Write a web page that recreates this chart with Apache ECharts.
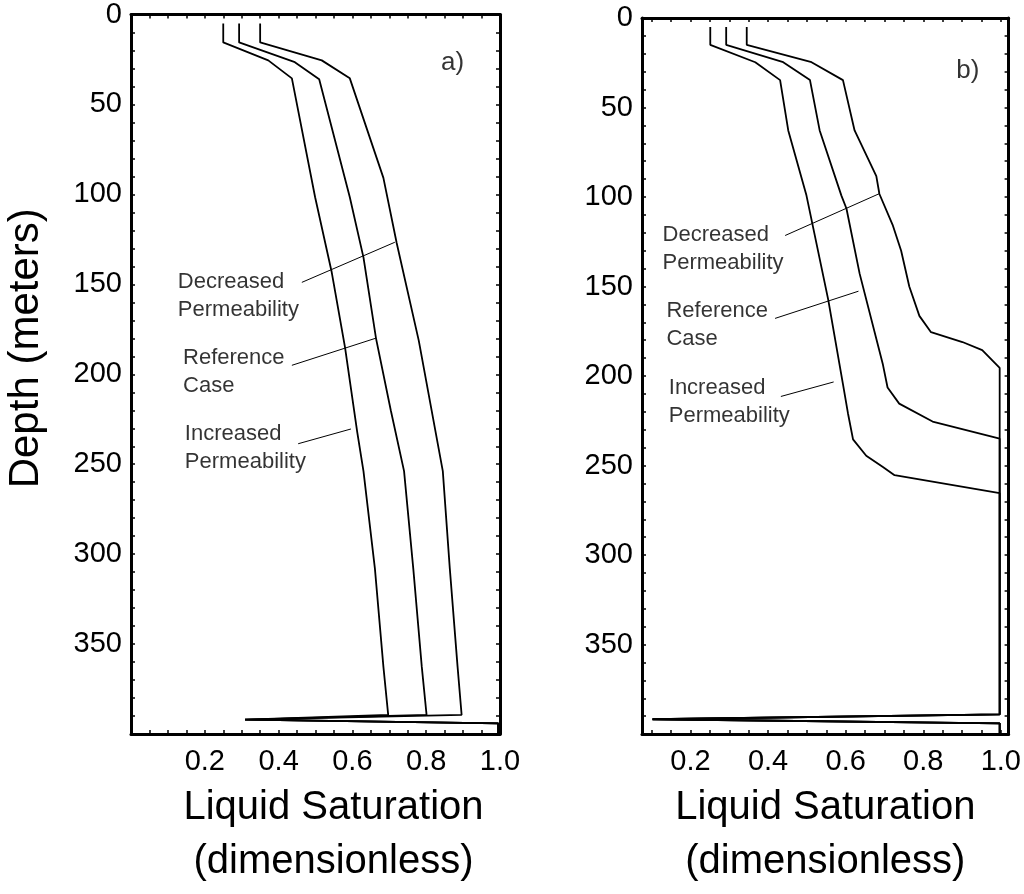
<!DOCTYPE html>
<html><head><meta charset="utf-8">
<script src="https://cdn.jsdelivr.net/npm/echarts@6/dist/echarts.min.js"></script>
<style>html,body{margin:0;padding:0;background:#fff}#c{width:1024px;height:894px}</style>
</head><body><div id="c"></div>
<script>
// ---- tick labels ----
const depthLabels = [0, 50, 100, 150, 200, 250, 300, 350];
const satLabels = [0.2, 0.4, 0.6, 0.8, 1.0];

// ---- panel a) : [saturation, depth] ----
const incA = [[0.250,5],[0.250,15.5],[0.372,25.5],[0.436,35.5],[0.499,101.6],[0.544,143.3],[0.580,185],[0.613,232],[0.630,253.8],[0.661,308],[0.684,362.5],[0.697,389.3],[0.309,392],[0.995,394],[0.995,400]];
const refA = [[0.293,5],[0.293,15.5],[0.444,26.5],[0.510,36],[0.593,101.6],[0.630,135],[0.664,180],[0.704,220],[0.740,253.8],[0.765,308],[0.788,362.5],[0.801,389.3],[0.309,392],[0.995,394],[0.995,400]];
const decA = [[0.350,5],[0.350,15.5],[0.517,25.5],[0.593,35.5],[0.684,90.8],[0.720,127],[0.780,181.4],[0.845,253.8],[0.864,308],[0.885,362.5],[0.896,389.3],[0.309,392],[0.995,394],[0.995,400]];

// ---- panel b) ----
const incB = [[0.251,5],[0.251,15],[0.367,24.7],[0.431,34.7],[0.452,62.8],[0.499,99.2],[0.555,157.3],[0.593,204.5],[0.606,220.9],[0.619,235.4],[0.653,244.5],[0.696,250.8],[0.726,255.4],[0.997,265.4],[0.997,389],[0.102,391.7],[0.997,394],[0.997,400]];
const refB = [[0.292,5],[0.292,15],[0.439,24.7],[0.508,34.7],[0.533,62.8],[0.589,99.2],[0.602,106.4],[0.636,142.8],[0.696,193.6],[0.708,206.4],[0.738,215.4],[0.824,225.4],[0.997,235],[0.997,389],[0.102,391.7],[0.997,394],[0.997,400]];
const decB = [[0.345,5],[0.345,15],[0.512,24.7],[0.593,34.7],[0.623,62.8],[0.679,88.3],[0.687,98.3],[0.721,115.5],[0.743,130],[0.764,150],[0.790,166.4],[0.820,175.5],[0.901,181],[0.952,185.5],[0.997,195.5],[0.997,389],[0.102,391.7],[0.997,394],[0.997,400]];

// ---- annotations: label text, label anchor, leader start, leader end ----
const annoNames = ['Decreased\nPermeability', 'Reference\nCase', 'Increased\nPermeability'];
const annoTextA = [[0.127,156.5],[0.141,198.6],[0.146,241]];
const annoLeadA = [[[0.463,148.9],[0.715,126.6]], [[0.436,195],[0.664,179.9]], [[0.453,238.6],[0.596,230.4]]];
const annoTextB = [[0.128,128.9],[0.138,171.4],[0.144,214.2]];
const annoLeadB = [[[0.444,121.5],[0.687,98.1]], [[0.418,167.8],[0.633,152.6]], [[0.433,211.4],[0.569,203.3]]];
const panelNames = ['a)', 'b)'];
const panelPos = [[0.84,26.6],[0.885,29.4]];

const FONT = '"Liberation Sans", Arial, Helvetica, sans-serif';
function steps(a, b, s) { const r = []; for (let i = 0; a + i * s <= b + 1e-9; i++) r.push(+(a + i * s).toFixed(3)); return r; }

const panels = [
  { grid: { left: 131, top: 13, width: 369, height: 737 }, xmin: 0, xmax: 1.0, xTicks: steps(0.05, 1.0, 0.05),
    series: [incA, refA, decA], text: annoTextA, lead: annoLeadA, yName: 'Depth (meters)', namePad: [0,0,0,36] },
  { grid: { left: 642, top: 18, width: 368, height: 734 }, xmin: 0.075, xmax: 1.02, xTicks: steps(0.1, 1.0, 0.05),
    series: [incB, refB, decB], text: annoTextB, lead: annoLeadB, yName: '', namePad: [0,0,0,0] }
];
const yTicks = steps(0, 400, 10);

const lineAxis = { show: true, onZero: false, lineStyle: { color: '#000', width: 3 } };
const grid = [], xAxis = [], yAxis = [], series = [];
panels.forEach((p, i) => {
  grid.push(p.grid);
  const xBase = { gridIndex: i, type: 'value', min: p.xmin, max: p.xmax, axisLine: lineAxis, splitLine: { show: false },
    axisTick: { show: true, inside: true, length: 4, customValues: p.xTicks, lineStyle: { color: '#000', width: 1.5 } } };
  xAxis.push(Object.assign({}, xBase, { position: 'bottom',
    axisLabel: { show: true, customValues: satLabels, formatter: v => v.toFixed(1), fontSize: 29, margin: 13, color: '#000', fontFamily: FONT },
    name: 'Liquid Saturation\n(dimensionless)', nameLocation: 'middle', nameGap: 30,
    nameTextStyle: { fontSize: 40, lineHeight: 54, color: '#000', fontFamily: FONT, padding: p.namePad } }));
  xAxis.push(Object.assign({}, xBase, { position: 'top', axisLabel: { show: false } }));
  const yBase = { gridIndex: i, type: 'value', inverse: true, min: 0, max: 400, axisLine: lineAxis, splitLine: { show: false },
    axisTick: { show: true, inside: true, length: 4, customValues: yTicks, lineStyle: { color: '#000', width: 1.5 } } };
  yAxis.push(Object.assign({}, yBase, { position: 'left',
    axisLabel: { show: true, customValues: depthLabels, fontSize: 29, margin: 9, color: '#000', fontFamily: FONT },
    name: p.yName, nameLocation: 'middle', nameGap: 84, nameRotate: 90,
    nameTextStyle: { fontSize: 42, color: '#000', fontFamily: FONT, padding: [0, 0, 0, 52] } }));
  yAxis.push(Object.assign({}, yBase, { position: 'right', axisLabel: { show: false } }));

  const xi = i * 2, yi = i * 2;
  p.series.forEach(d => series.push({ type: 'line', xAxisIndex: xi, yAxisIndex: yi, data: d, symbol: 'none',
    lineStyle: { color: '#000', width: 1.8 }, animation: false, silent: true }));
  p.lead.forEach(d => series.push({ type: 'line', xAxisIndex: xi, yAxisIndex: yi, data: d, symbol: 'none',
    lineStyle: { color: '#000', width: 1 }, animation: false, silent: true }));
  series.push({ type: 'scatter', xAxisIndex: xi, yAxisIndex: yi, symbolSize: 0, animation: false, silent: true,
    data: p.text.map((v, k) => ({ value: v, name: annoNames[k] })),
    label: { show: true, position: 'right', distance: 0, formatter: q => q.name, fontSize: 22, lineHeight: 28, color: '#000', fontFamily: FONT } });
  series.push({ type: 'scatter', xAxisIndex: xi, yAxisIndex: yi, symbolSize: 0, animation: false, silent: true,
    data: [{ value: panelPos[i], name: panelNames[i] }],
    label: { show: true, position: 'right', distance: 0, formatter: q => q.name, fontSize: 26, color: '#000', fontFamily: FONT } });
});

const chart = echarts.init(document.getElementById('c'), null, { renderer: 'canvas' });
chart.setOption({ backgroundColor: '#fff', animation: false, grid, xAxis, yAxis, series });
</script></body></html>
